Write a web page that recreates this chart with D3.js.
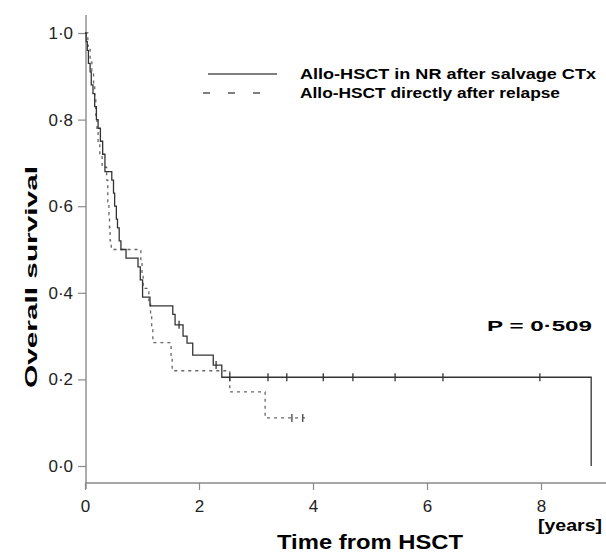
<!DOCTYPE html>
<html>
<head>
<meta charset="utf-8">
<script src="https://cdn.jsdelivr.net/npm/d3@7"></script>
<style>
  body { margin: 0; background: #fff; }
  svg { font-family: "Liberation Sans", Arial, sans-serif; }
</style>
</head>
<body>
<svg id="chart" width="606" height="556"></svg>
<script>
// Allo-HSCT in NR after salvage CTx (solid)
const solidTimes = [0, 0.02, 0.04, 0.06, 0.09, 0.11, 0.14, 0.17, 0.20, 0.23, 0.27, 0.31, 0.35, 0.47, 0.50, 0.52, 0.55, 0.57, 0.60, 0.63, 0.72, 0.93, 0.97, 1.01, 1.14, 1.54, 1.58, 1.72, 1.79, 1.89, 2.25, 2.40, 8.88];
const solidSurv = [1.0, 0.98, 0.96, 0.93, 0.91, 0.88, 0.86, 0.83, 0.80, 0.78, 0.75, 0.72, 0.68, 0.66, 0.63, 0.60, 0.57, 0.55, 0.52, 0.50, 0.48, 0.46, 0.43, 0.39, 0.37, 0.35, 0.326, 0.30, 0.284, 0.256, 0.233, 0.205, 0.0];
const solidCensor = [1.65, 2.30, 2.54, 3.21, 3.54, 4.18, 4.70, 5.44, 6.28, 7.98];

// Allo-HSCT directly after relapse (dashed)
const dashTimes = [0, 0.05, 0.09, 0.12, 0.15, 0.17, 0.19, 0.21, 0.23, 0.26, 0.30, 0.38, 0.40, 0.42, 0.43, 0.44, 0.46, 0.98, 1.00, 1.02, 1.12, 1.15, 1.17, 1.19, 1.51, 1.53, 2.54, 3.16, 3.87];
const dashSurv = [1.0, 0.97, 0.94, 0.91, 0.88, 0.85, 0.81, 0.78, 0.75, 0.72, 0.69, 0.66, 0.61, 0.58, 0.55, 0.52, 0.50, 0.47, 0.44, 0.41, 0.38, 0.35, 0.32, 0.285, 0.25, 0.22, 0.171, 0.111, 0.111];
const dashCensor = [3.63, 3.82];

const seriesNames = ["Allo-HSCT in NR after salvage CTx", "Allo-HSCT directly after relapse"];
const xTicks = [0, 2, 4, 6, 8];
const yTicks = [0, 0.2, 0.4, 0.6, 0.8, 1.0];
const pLabel = "P = 0·509";

const svg = d3.select("#chart");
const x = d3.scaleLinear().domain([0, 9.14]).range([85, 606]);
const y = d3.scaleLinear().domain([0, 1]).range([466, 33]);
const axisY = 483;
const axisColor = "#8a8a8a";

// axis lines
svg.append("line").attr("x1", 86).attr("x2", 86).attr("y1", 15).attr("y2", axisY + 6)
  .attr("stroke", axisColor).attr("stroke-width", 1.4);
svg.append("line").attr("x1", 85).attr("x2", 606).attr("y1", axisY).attr("y2", axisY)
  .attr("stroke", axisColor).attr("stroke-width", 1.4);

const fmt = d => d3.format(".1f")(d).replace(".", "·");

const gy = svg.append("g").attr("transform", "translate(86,0)")
  .call(d3.axisLeft(y).tickValues(yTicks).tickSize(8).tickPadding(5).tickFormat(fmt));
gy.select(".domain").remove();
gy.selectAll(".tick line").attr("stroke", axisColor).attr("stroke-width", 1.2);
gy.selectAll(".tick text").attr("font-size", 17).attr("fill", "#222")
  .attr("font-family", "Liberation Sans, Arial, sans-serif");

const gx = svg.append("g").attr("transform", `translate(0,${axisY})`)
  .call(d3.axisBottom(x).tickValues(xTicks).tickSize(7).tickPadding(10).tickFormat(d3.format("d")));
gx.select(".domain").remove();
gx.selectAll(".tick line").attr("stroke", axisColor).attr("stroke-width", 1.2);
gx.selectAll(".tick text").attr("font-size", 17).attr("fill", "#222")
  .attr("font-family", "Liberation Sans, Arial, sans-serif");

// curves
const line = d3.line().x(d => x(d[0])).y(d => y(d[1])).curve(d3.curveStepAfter);
const solidPts = solidTimes.map((t, i) => [t, solidSurv[i]]);
const dashPts = dashTimes.map((t, i) => [t, dashSurv[i]]);

svg.append("path").datum(dashPts).attr("d", line).attr("fill", "none")
  .attr("stroke", "#666").attr("stroke-width", 1.3).attr("stroke-dasharray", "3,4");
svg.append("path").datum(solidPts).attr("d", line).attr("fill", "none")
  .attr("stroke", "#333").attr("stroke-width", 1.3);

function survAt(times, surv, t) {
  let v = surv[0];
  for (let i = 0; i < times.length; i++) if (times[i] <= t) v = surv[i];
  return v;
}
function censorMarks(times, surv, cens, color) {
  svg.append("g").selectAll("line").data(cens).join("line")
    .attr("x1", d => x(d)).attr("x2", d => x(d))
    .attr("y1", d => y(survAt(times, surv, d)) - 4)
    .attr("y2", d => y(survAt(times, surv, d)) + 4)
    .attr("stroke", color).attr("stroke-width", 1.3);
}
censorMarks(solidTimes, solidSurv, solidCensor, "#333");
censorMarks(dashTimes, dashSurv, dashCensor, "#444");

// legend
svg.append("line").attr("x1", 208).attr("x2", 277).attr("y1", 74).attr("y2", 74)
  .attr("stroke", "#555").attr("stroke-width", 1.3);
svg.append("line").attr("x1", 203).attr("x2", 262).attr("y1", 93).attr("y2", 93)
  .attr("stroke", "#555").attr("stroke-width", 1.3).attr("stroke-dasharray", "7,18");
svg.append("text").attr("x", 300).attr("y", 79).attr("font-size", 14).attr("font-weight", "bold")
  .attr("textLength", 296).attr("lengthAdjust", "spacingAndGlyphs").text(seriesNames[0]);
svg.append("text").attr("x", 300).attr("y", 98).attr("font-size", 14).attr("font-weight", "bold")
  .attr("textLength", 260).attr("lengthAdjust", "spacingAndGlyphs").text(seriesNames[1]);

// p value
svg.append("text").attr("x", 487).attr("y", 331).attr("font-size", 15).attr("font-weight", "bold")
  .attr("textLength", 105).attr("lengthAdjust", "spacingAndGlyphs").text(pLabel);

// axis titles
svg.append("text").attr("transform", "translate(37,277) rotate(-90)").attr("text-anchor", "middle")
  .attr("font-size", 17).attr("font-weight", "bold")
  .attr("textLength", 222).attr("lengthAdjust", "spacingAndGlyphs").text("Overall survival");
svg.append("text").attr("x", 277).attr("y", 549).attr("font-size", 20).attr("font-weight", "bold")
  .attr("textLength", 186).attr("lengthAdjust", "spacingAndGlyphs").text("Time from HSCT");
svg.append("text").attr("x", 538).attr("y", 531).attr("font-size", 17).attr("font-weight", "bold")
  .attr("textLength", 64).attr("lengthAdjust", "spacingAndGlyphs").text("[years]");
</script>
</body>
</html>
